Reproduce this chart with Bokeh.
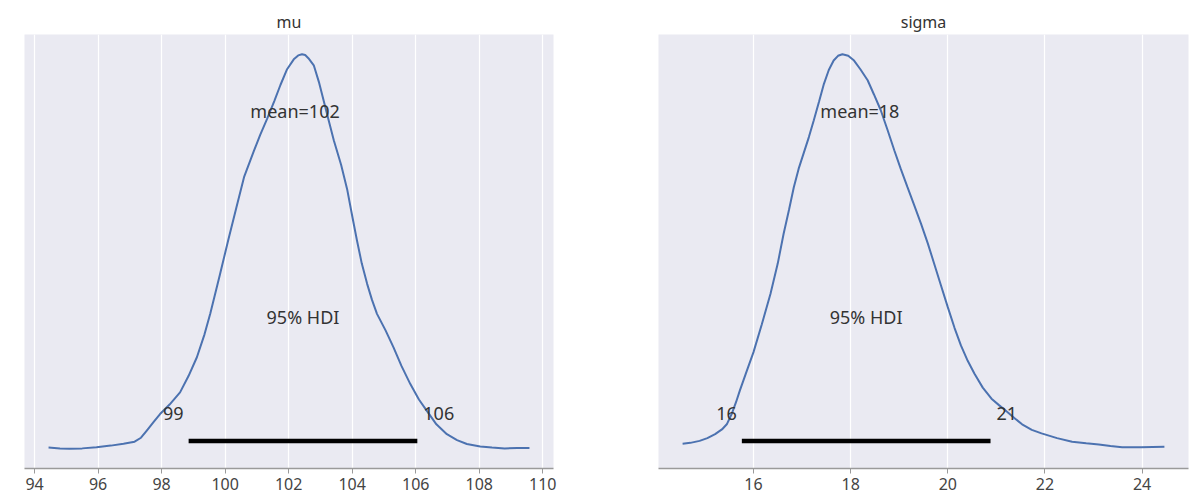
from bokeh.plotting import figure
from bokeh.layouts import row
from bokeh.models import Range1d, FixedTicker
from bokeh.core.properties import value
from bokeh.embed import file_html
from bokeh.resources import INLINE

# ---------------- data ----------------
titles = ["mu", "sigma"]

mu_x = [94.44, 94.8, 95.1, 95.5, 95.95, 96.4, 96.8, 97.15, 97.35, 97.52,
        97.75, 97.95, 98.25, 98.58, 98.85, 99.11, 99.35, 99.53, 99.84, 100.1,
        100.35, 100.6, 100.89, 101.1, 101.32, 101.55, 101.74, 101.95, 102.16, 102.3,
        102.42, 102.52, 102.62, 102.79, 102.95, 103.1, 103.26, 103.42, 103.65, 103.84,
        104.0, 104.15, 104.3, 104.47, 104.62, 104.78, 105.05, 105.3, 105.55, 105.83,
        106.1, 106.35, 106.65, 106.98, 107.3, 107.61, 108.03, 108.4, 108.8, 109.2,
        109.58]
mu_density = [0.003, 0.001, 0.000, 0.001, 0.004, 0.008, 0.013, 0.018, 0.028, 0.045,
              0.068, 0.088, 0.112, 0.143, 0.185, 0.232, 0.29, 0.342, 0.443, 0.53,
              0.61, 0.69, 0.752, 0.795, 0.836, 0.882, 0.922, 0.962, 0.987, 0.997,
              1.0, 0.998, 0.99, 0.972, 0.93, 0.883, 0.832, 0.782, 0.72, 0.658,
              0.59, 0.528, 0.47, 0.418, 0.378, 0.342, 0.30, 0.257, 0.21, 0.164,
              0.125, 0.096, 0.062, 0.037, 0.022, 0.012, 0.006, 0.003, 0.001, 0.002,
              0.002]

sigma_x = [14.54, 14.7, 14.89, 15.05, 15.21, 15.35, 15.45, 15.55, 15.64, 15.72,
           15.84, 16.0, 16.17, 16.35, 16.5, 16.62, 16.73, 16.83, 16.93, 17.03,
           17.14, 17.24, 17.35, 17.45, 17.55, 17.65, 17.74, 17.83, 17.95, 18.07,
           18.2, 18.35, 18.48, 18.62, 18.76, 18.9, 19.03, 19.17, 19.31, 19.45,
           19.59, 19.72, 19.86, 20.0, 20.14, 20.27, 20.41, 20.55, 20.72, 20.9,
           21.06, 21.22, 21.37, 21.53, 21.73, 21.93, 22.25, 22.56, 22.85, 23.11,
           23.35, 23.59, 23.98, 24.46]
sigma_density = [0.013, 0.015, 0.020, 0.027, 0.037, 0.049, 0.062, 0.088, 0.118, 0.148,
                 0.19, 0.245, 0.315, 0.393, 0.47, 0.545, 0.605, 0.663, 0.71, 0.748,
                 0.79, 0.832, 0.88, 0.925, 0.96, 0.984, 0.996, 1.0, 0.996, 0.984,
                 0.962, 0.934, 0.898, 0.858, 0.808, 0.756, 0.71, 0.663, 0.617, 0.57,
                 0.52, 0.469, 0.414, 0.359, 0.306, 0.262, 0.223, 0.19, 0.155, 0.127,
                 0.11, 0.094, 0.078, 0.062, 0.048, 0.039, 0.027, 0.018, 0.014, 0.011,
                 0.007, 0.004, 0.004, 0.005]

mu_mean = 102.2
sigma_mean = 18.19
mean_labels = ["mean=102", "mean=18"]

mu_hdi = [98.85, 106.05]
sigma_hdi = [15.76, 20.88]
mu_hdi_labels = ["99", "106"]
sigma_hdi_labels = ["16", "21"]
hdi_text = "95% HDI"

mu_ticks = [94, 96, 98, 100, 102, 104, 106, 108, 110]
sigma_ticks = [16, 18, 20, 22, 24]

# ---------------- styling ----------------
FONT = "Noto Sans"
BG = "#EAEAF2"
LINE = "#4C72B0"
TXT = "#333333"


def make_panel(title, xs, dens, mean_v, mean_label, hdi, hdi_labels, ticks,
               frame_w, border_l, border_r):
    xmin, xmax = min(xs), max(xs)
    xpad = 0.05 * (xmax - xmin)
    ymax = max(dens)
    p = figure(frame_width=frame_w, frame_height=434,
               x_range=Range1d(xmin - xpad, xmax + xpad),
               y_range=Range1d(-0.05 * ymax, 1.05 * ymax),
               y_axis_location=None,
               output_backend="svg", toolbar_location=None,
               min_border_left=border_l, min_border_right=border_r,
               min_border_top=34, min_border_bottom=30)
    p.title.text = title
    p.title.align = "center"
    p.title.text_font = FONT
    p.title.text_font_size = "16px"
    p.title.text_font_style = "normal"
    p.title.text_color = TXT
    p.title.standoff = 3

    p.background_fill_color = BG
    p.border_fill_color = "white"
    p.outline_line_color = None

    p.xgrid.grid_line_color = "white"
    p.xgrid.grid_line_width = 1.2
    p.ygrid.visible = False
    p.xaxis.ticker = FixedTicker(ticks=ticks)
    p.xaxis.ticker.minor_ticks = []
    p.xaxis.axis_line_color = "#9a9a9a"
    p.xaxis.axis_line_width = 1.5
    p.xaxis.major_tick_line_color = "#9a9a9a"
    p.xaxis.major_tick_out = 5
    p.xaxis.major_tick_in = 0
    p.xaxis.minor_tick_line_color = None
    p.xaxis.major_label_text_font = FONT
    p.xaxis.major_label_text_font_size = "16px"
    p.xaxis.major_label_text_color = "#444444"
    p.xaxis.major_label_standoff = 4

    p.line(xs, dens, line_color=LINE, line_width=2)
    p.line(hdi, [0.02 * ymax, 0.02 * ymax], line_color="black", line_width=4.5)

    common = dict(text_font=value(FONT), text_font_size="18px",
                  text_color=TXT, text_baseline="middle")
    p.text(x=[mean_v], y=[0.856 * ymax], text=[mean_label], text_align="center", **common)
    p.text(x=[(hdi[0] + hdi[1]) / 2], y=[0.333 * ymax], text=[hdi_text],
           text_align="center", **common)
    p.text(x=[hdi[0]], y=[0.09 * ymax], text=[hdi_labels[0]], text_align="right",
           x_offset=-5, **common)
    p.text(x=[hdi[1]], y=[0.09 * ymax], text=[hdi_labels[1]], text_align="left",
           x_offset=6, **common)
    return p


p1 = make_panel(titles[0], mu_x, mu_density, mu_mean, mean_labels[0], mu_hdi,
                mu_hdi_labels, mu_ticks, 529, 24, 50)
p2 = make_panel(titles[1], sigma_x, sigma_density, sigma_mean, mean_labels[1], sigma_hdi,
                sigma_hdi_labels, sigma_ticks, 530, 55, 4)

layout = row(p1, p2)
open("out.html", "w").write(file_html(layout, INLINE))
